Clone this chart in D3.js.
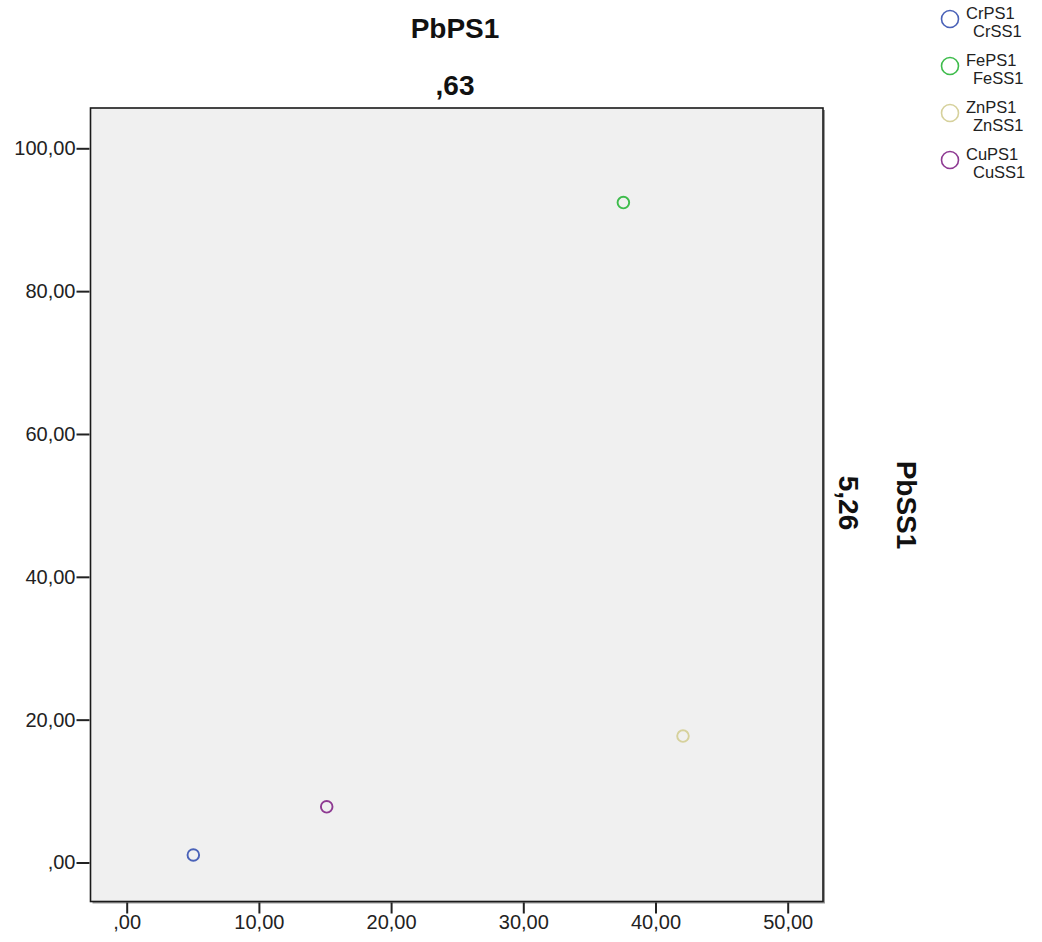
<!DOCTYPE html>
<html><head><meta charset="utf-8">
<script src="https://cdn.jsdelivr.net/npm/d3@7"></script>
<style>
body{margin:0;background:#fff;}
svg{display:block;font-family:"Liberation Sans",Arial,sans-serif;}
</style></head>
<body>
<svg id="chart" width="1042" height="942"></svg>
<script>
const seriesNames = ["Cr","Fe","Zn","Cu"];
const legendLine1 = ["CrPS1","FePS1","ZnPS1","CuPS1"];
const legendLine2 = ["CrSS1","FeSS1","ZnSS1","CuSS1"];
const xValues = [5.04, 37.57, 42.08, 15.13];
const yValues = [1.05, 92.4, 17.7, 7.8];
const colors = ["#4a62b8","#3ebc4c","#d6d19c","#8e3a92"];
const xTicks = [0,10,20,30,40,50];
const yTicks = [0,20,40,60,80,100];
const topTitle = "PbPS1", topValue = ",63";
const rightTitle = "PbSS1", rightValue = "5,26";

const svg = d3.select("#chart");
const pL = 90.5, pR = 823, pT = 108, pB = 901.5;
const x = d3.scaleLinear().domain([0,50]).range([126.7,787.7]);
const y = d3.scaleLinear().domain([0,100]).range([862.5,148.3]);
const fmt = d => d===0 ? ",00" : d.toFixed(2).replace(".",",");

// shadow
svg.append("rect").attr("x",pL+2).attr("y",pT+2).attr("width",pR-pL).attr("height",pB-pT)
  .attr("fill","#9a9a9a");
svg.append("rect").attr("x",pL).attr("y",pT).attr("width",pR-pL).attr("height",pB-pT)
  .attr("fill","#f0f0f0").attr("stroke","#1a1a1a").attr("stroke-width",1.6);

const xAxis = svg.append("g").attr("transform",`translate(0,${pB+1})`)
  .call(d3.axisBottom(x).tickValues(xTicks).tickFormat(fmt).tickSize(11).tickPadding(1));
const yAxis = svg.append("g").attr("transform",`translate(${pL-1},0)`)
  .call(d3.axisLeft(y).tickValues(yTicks).tickFormat(fmt).tickSize(13).tickPadding(1));
[xAxis,yAxis].forEach(a=>{
  a.select(".domain").remove();
  a.selectAll(".tick line").attr("stroke","#222").attr("stroke-width",2);
  a.selectAll(".tick text").attr("fill","#222").style("font-size","20px").style("font-family","'Liberation Sans',Arial,sans-serif");
});

// points
svg.append("g").selectAll("circle").data(seriesNames).join("circle")
  .attr("cx",(d,i)=>x(xValues[i])).attr("cy",(d,i)=>y(yValues[i])).attr("r",5.8)
  .attr("fill","none").attr("stroke",(d,i)=>colors[i]).attr("stroke-width",1.9);

// titles
const tStyle = s => s.style("font-size","28px").style("font-weight","bold").attr("fill","#111");
svg.append("text").attr("x",455).attr("y",38).attr("text-anchor","middle").call(tStyle).text(topTitle);
svg.append("text").attr("x",455).attr("y",95).attr("text-anchor","middle").call(tStyle).text(topValue);
svg.append("text").attr("transform","translate(839,503) rotate(90)").attr("text-anchor","middle").call(tStyle).text(rightValue);
svg.append("text").attr("transform","translate(897,505) rotate(90)").attr("text-anchor","middle").call(tStyle).text(rightTitle);

// legend
const lg = svg.append("g").selectAll("g").data(seriesNames).join("g")
  .attr("transform",(d,i)=>`translate(0,${19+i*47})`);
lg.append("circle").attr("cx",950).attr("cy",0).attr("r",8.5).attr("fill","none")
  .attr("stroke",(d,i)=>colors[i]).attr("stroke-width",1.6);
lg.append("text").attr("x",966).attr("y",0).style("font-size","16.5px").attr("fill","#222")
  .text((d,i)=>legendLine1[i]);
lg.append("text").attr("x",973).attr("y",18).style("font-size","16.5px").attr("fill","#222")
  .text((d,i)=>legendLine2[i]);
</script>
</body></html>
